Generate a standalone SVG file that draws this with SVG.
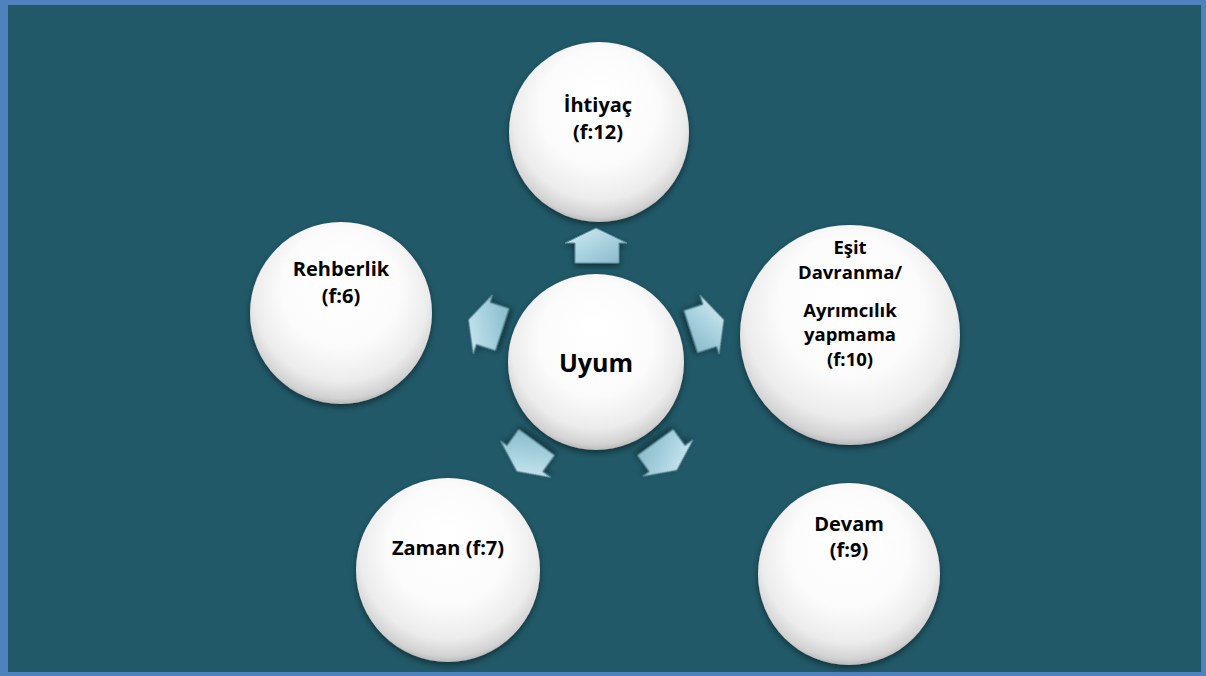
<svg xmlns="http://www.w3.org/2000/svg" width="1206" height="676" viewBox="0 0 1206 676">
<defs>
<radialGradient id="ball" cx="0.5" cy="0.42" r="0.6" fx="0.5" fy="0.3">
<stop offset="0" stop-color="#ffffff"/>
<stop offset="0.55" stop-color="#fbfbfb"/>
<stop offset="0.8" stop-color="#ececec"/>
<stop offset="0.93" stop-color="#d2d2d2"/>
<stop offset="1" stop-color="#a9a9a9"/>
</radialGradient>
<linearGradient id="arr" x1="0" y1="0" x2="1" y2="1">
<stop offset="0" stop-color="#d9eef4"/>
<stop offset="0.5" stop-color="#a9d3e0"/>
<stop offset="1" stop-color="#87b8c8"/>
</linearGradient>
<filter id="sh" x="-20%" y="-20%" width="140%" height="140%">
<feDropShadow dx="0" dy="3" stdDeviation="3" flood-color="#000" flood-opacity="0.45"/>
</filter>
<path id="arrow" d="M-32,-2 L-1,-17 L30,-2 L22,-2 L22,18 L-22,18 L-22,-2 Z"/>
</defs>
<style>
.node circle{fill:url(#ball);filter:url(#sh)}
.lbl{font-family:"Open Sans","Liberation Sans",sans-serif;font-weight:bold;font-size:20px;fill:#000;text-anchor:middle;dominant-baseline:central}
.sm{font-size:18.5px}
.big{font-size:25px}
.ar{fill:url(#arr);stroke:#5f8d9c;stroke-width:1;filter:url(#sh)}
</style>
<rect x="0" y="0" width="1206" height="676" fill="#4f81bd"/>
<rect x="8" y="5" width="1193" height="667" fill="#215968"/>
<g id="connectors">
<use href="#arrow" class="ar" transform="translate(597,245)"/>
<use href="#arrow" class="ar" transform="translate(708,326) rotate(72)"/>
<use href="#arrow" class="ar" transform="translate(666,457) rotate(144)"/>
<use href="#arrow" class="ar" transform="translate(526,457) rotate(216)"/>
<use href="#arrow" class="ar" transform="translate(485,324) rotate(288)"/>
</g>
<g id="node-uyum" class="node">
<circle cx="596" cy="362" r="88"/>
<text class="lbl big" x="596" y="362">Uyum</text>
</g>
<g id="node-ihtiyac" class="node">
<circle cx="599" cy="132" r="90"/>
<text class="lbl" x="598" y="104">İhtiyaç</text>
<text class="lbl" x="598" y="131">(f:12)</text>
</g>
<g id="node-esit" class="node">
<circle cx="850" cy="335" r="110"/>
<text class="lbl sm" x="850" y="246">Eşit</text>
<text class="lbl sm" x="850" y="271">Davranma/</text>
<text class="lbl sm" x="850" y="309">Ayrımcılık</text>
<text class="lbl sm" x="850" y="333">yapmama</text>
<text class="lbl sm" x="850" y="358">(f:10)</text>
</g>
<g id="node-devam" class="node">
<circle cx="849" cy="574" r="91"/>
<text class="lbl" x="849" y="523">Devam</text>
<text class="lbl" x="849" y="549">(f:9)</text>
</g>
<g id="node-zaman" class="node">
<circle cx="448" cy="570" r="92"/>
<text class="lbl" x="448" y="547">Zaman (f:7)</text>
</g>
<g id="node-rehberlik" class="node">
<circle cx="341" cy="313" r="91"/>
<text class="lbl" x="341" y="268">Rehberlik</text>
<text class="lbl" x="341" y="295">(f:6)</text>
</g>
</svg>
